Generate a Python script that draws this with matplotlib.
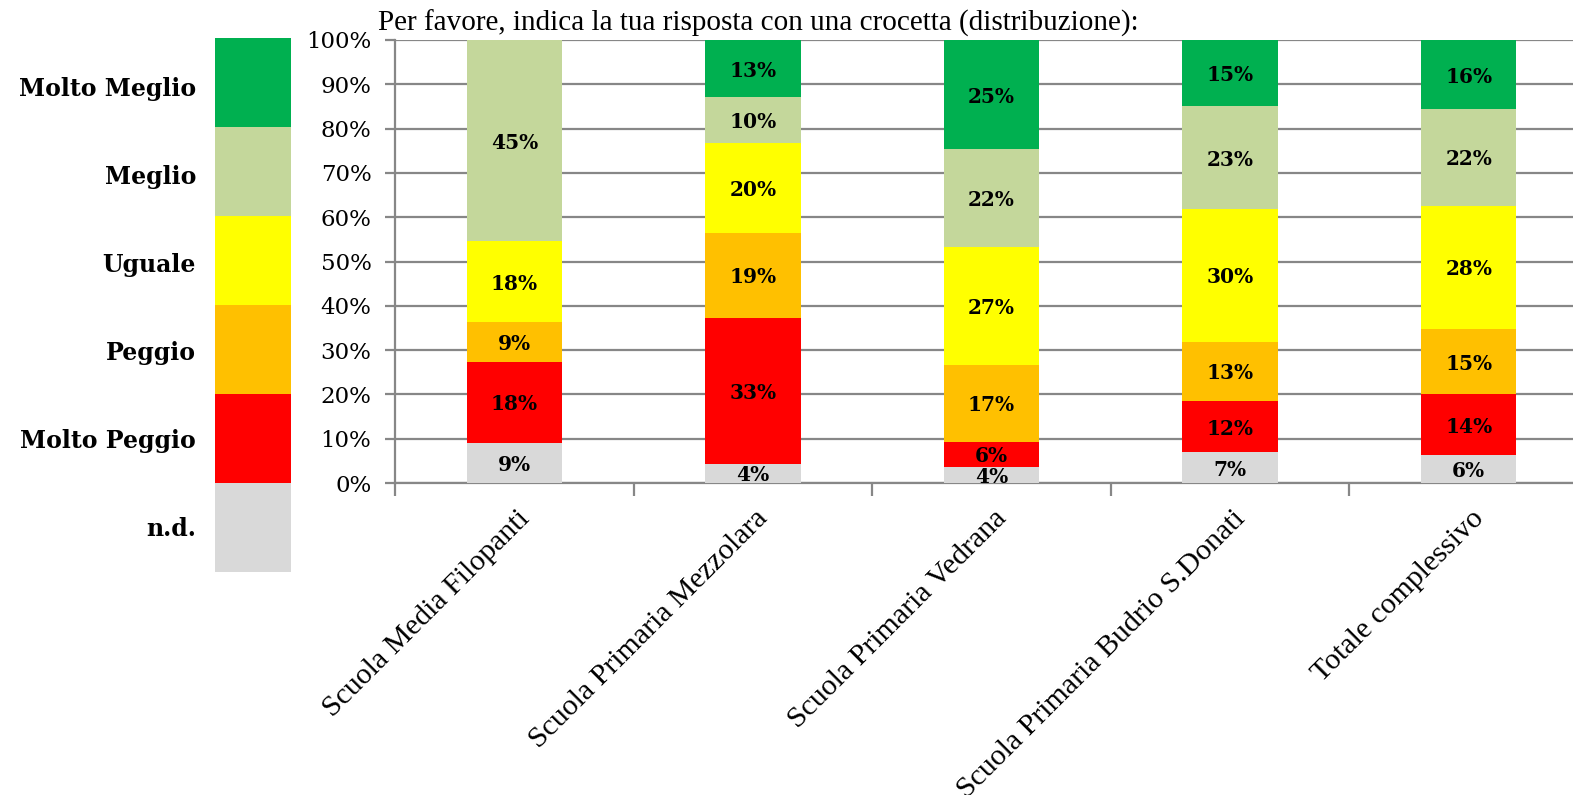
import matplotlib
matplotlib.use("Agg")
import matplotlib.pyplot as plt
from matplotlib.transforms import ScaledTranslation
import numpy as np

# ---- data ----
categories = ["Scuola Media Filopanti", "Scuola Primaria Mezzolara",
              "Scuola Primaria Vedrana", "Scuola Primaria Budrio S.Donati",
              "Totale complessivo"]
series_names = ["n.d.", "Molto Peggio", "Peggio", "Uguale", "Meglio", "Molto Meglio"]
nd           = [9.09, 4.3, 3.7, 6.9, 6.3]
molto_peggio = [18.18, 33.0, 5.6, 11.7, 13.8]
peggio       = [9.09, 19.2, 17.4, 13.3, 14.6]
uguale       = [18.18, 20.2, 26.6, 29.9, 27.9]
meglio       = [45.45, 10.4, 22.0, 23.3, 21.8]
molto_meglio = [0.0, 12.9, 24.7, 14.9, 15.6]
yticks = [0, 10, 20, 30, 40, 50, 60, 70, 80, 90, 100]
title = "Per favore, indica la tua risposta con una crocetta (distribuzione):"

series = [nd, molto_peggio, peggio, uguale, meglio, molto_meglio]
colors = ["#D9D9D9", "#FF0000", "#FFC000", "#FFFF00", "#C4D79B", "#00B050"]

W, H = 1573, 795
fig = plt.figure(figsize=(W / 100, H / 100), dpi=100)
fig.patch.set_facecolor("white")

GEORGIA = "DejaVu Serif"
TIMES = "Liberation Serif"
GRID = "#878787"

# main axes (extends past right edge like the reference)
ax = fig.add_axes([395 / W, (H - 483) / H, 1193 / W, 443 / H])
x = np.arange(len(categories))
bottom = np.zeros(len(categories))
for vals, col in zip(series, colors):
    vals = np.array(vals)
    ax.bar(x, vals, 0.40, bottom=bottom, color=col, edgecolor="none", zorder=3)
    for xi, b, v in zip(x, bottom, vals):
        if v > 0:
            ax.text(xi, b + v / 2, f"{v:.0f}%", ha="center", va="center_baseline",
                    fontsize=14.5, fontweight="bold", family=GEORGIA,
                    color="black", zorder=4)
    bottom += vals

ax.set_xlim(-0.5, len(categories) - 0.5)
ax.set_ylim(0, 100)
ax.set_yticks(yticks)
ax.set_yticklabels([f"{t}%" for t in yticks], family=GEORGIA, fontsize=16.5)
ax.yaxis.grid(True, color=GRID, linewidth=1.6, zorder=0)
ax.set_axisbelow(True)
for s in ["top", "right"]:
    ax.spines[s].set_visible(False)
for s in ["left", "bottom"]:
    ax.spines[s].set_color(GRID)
    ax.spines[s].set_linewidth(1.6)
ax.tick_params(axis="y", length=7, width=1.6, color=GRID, pad=10)

# x: minor ticks at category boundaries, labels at centres
ax.set_xticks(np.arange(len(categories) + 1) - 0.5, minor=True)
ax.set_xticks(x)
ax.set_xticklabels(categories, family=TIMES, fontsize=21.5, rotation=45,
                   ha="right", va="top", rotation_mode="anchor")
ax.tick_params(axis="x", which="major", length=0, pad=16)
ax.tick_params(axis="x", which="minor", length=9, width=1.6, color=GRID)
for lbl in ax.get_xticklabels():
    lbl.set_transform(lbl.get_transform() + ScaledTranslation(0.02, 0, fig.dpi_scale_trans))

# title
fig.text(378 / W, 1 - 23 / H, title, family=TIMES, fontsize=21,
         ha="left", va="center")

# legend as colour blocks
lax = fig.add_axes([215 / W, (H - 572) / H, 76 / W, 534 / H])
for i, col in enumerate(colors):
    lax.bar(0, 1, 1.0, bottom=i, color=col, edgecolor="none")
lax.set_xlim(-0.5, 0.5)
lax.set_ylim(0, len(colors))
lax.axis("off")
n = len(series_names)
for i, name in enumerate(series_names):
    yb = 1 - (96 + 88 * (n - 1 - i)) / H
    fig.text(196 / W, yb, name, family=GEORGIA, fontsize=17, fontweight="bold",
             ha="right", va="baseline")

fig.savefig("out.png", dpi=100)
